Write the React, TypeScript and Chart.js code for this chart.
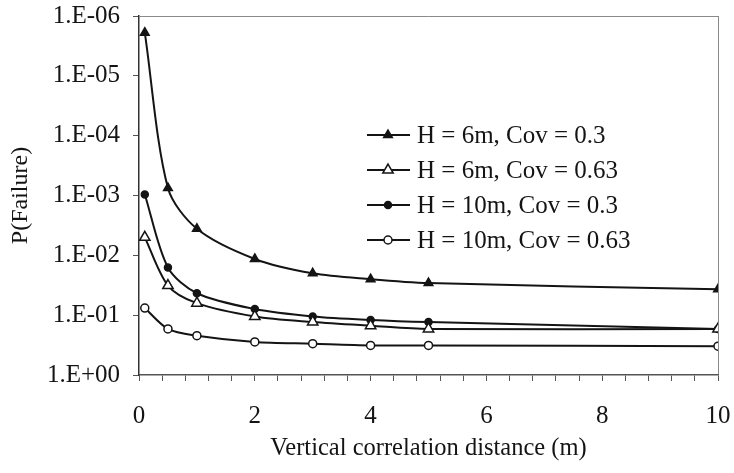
import React, { useEffect, useRef } from "react";
import { Chart, registerables } from "chart.js";

Chart.register(...registerables);

const X_VALUES = [0.1, 0.5, 1, 2, 3, 4, 5, 10];
const SERIES_LABELS = [
  "H = 6m, Cov = 0.3",
  "H = 6m, Cov = 0.63",
  "H = 10m, Cov = 0.3",
  "H = 10m, Cov = 0.63",
];
const H6_COV030 = [1.9e-6, 7.5e-4, 3.6e-3, 1.15e-2, 2.0e-2, 2.5e-2, 2.9e-2, 3.7e-2];
const H6_COV063 = [5.0e-3, 3.2e-2, 6.3e-2, 0.105, 0.13, 0.15, 0.17, 0.17];
const H10_COV030 = [9.6e-4, 1.6e-2, 4.3e-2, 7.9e-2, 0.105, 0.12, 0.13, 0.17];
const H10_COV063 = [0.076, 0.17, 0.22, 0.28, 0.3, 0.32, 0.32, 0.33];
const Y_TICKS = [1e-6, 1e-5, 1e-4, 1e-3, 1e-2, 1e-1, 1];
const X_MAJOR_STEP = 2;
const X_MINOR_STEP = 0.4;

const FONT = '"Liberation Serif", "Times New Roman", Times, serif';
const INK = "#141414";

type MarkerDef = { style: "triangle" | "circle"; radius: number; fill: string };
const MARKERS: MarkerDef[] = [
  { style: "triangle", radius: 5, fill: INK },
  { style: "triangle", radius: 6, fill: "#ffffff" },
  { style: "circle", radius: 3.5, fill: INK },
  { style: "circle", radius: 4, fill: "#ffffff" },
];

function fmtY(v: number): string {
  const e = Math.round(Math.log10(v));
  const sign = e < 0 ? "-" : "+";
  return `1.E${sign}${String(Math.abs(e)).padStart(2, "0")}`;
}

function drawMarker(ctx: CanvasRenderingContext2D, m: MarkerDef, x: number, y: number) {
  ctx.save();
  ctx.beginPath();
  if (m.style === "circle") {
    ctx.arc(x, y, m.radius, 0, Math.PI * 2);
  } else {
    const r = m.radius;
    ctx.moveTo(x, y - r);
    ctx.lineTo(x + r * Math.sin(Math.PI / 3), y + r * 0.5);
    ctx.lineTo(x - r * Math.sin(Math.PI / 3), y + r * 0.5);
    ctx.closePath();
  }
  ctx.fillStyle = m.fill;
  ctx.fill();
  ctx.lineWidth = 1.5;
  ctx.strokeStyle = INK;
  ctx.stroke();
  ctx.restore();
}

const legendPlugin = {
  id: "customLegend",
  afterDraw(chart: any) {
    const { ctx, chartArea } = chart;
    const x0 = chartArea.left + 228;
    const y0 = chartArea.top + 119;
    const rowH = 35;
    ctx.save();
    chart.data.datasets.forEach((ds: any, i: number) => {
      const y = y0 + i * rowH;
      ctx.beginPath();
      ctx.moveTo(x0, y);
      ctx.lineTo(x0 + 43, y);
      ctx.lineWidth = 2;
      ctx.strokeStyle = INK;
      ctx.stroke();
      drawMarker(ctx, MARKERS[i], x0 + 21, y);
      ctx.font = `25px ${FONT}`;
      ctx.fillStyle = INK;
      ctx.textAlign = "left";
      ctx.textBaseline = "middle";
      ctx.fillText(ds.label, x0 + 50, y + 1);
    });
    ctx.restore();
  },
};

export default function App() {
  const ref = useRef<HTMLCanvasElement | null>(null);

  useEffect(() => {
    if (!ref.current) return;
    const series = [H6_COV030, H6_COV063, H10_COV030, H10_COV063];
    const datasets = series.map((vals, i) => ({
      label: SERIES_LABELS[i],
      data: X_VALUES.map((x, j) => ({ x, y: vals[j] })),
      borderColor: INK,
      borderWidth: 2,
      backgroundColor: MARKERS[i].fill,
      pointBackgroundColor: MARKERS[i].fill,
      pointBorderColor: INK,
      pointBorderWidth: 1.5,
      pointStyle: MARKERS[i].style,
      pointRadius: MARKERS[i].radius,
      cubicInterpolationMode: "default" as const,
      tension: 0.3,
      fill: false,
    }));

    const chart = new Chart(ref.current, {
      type: "line",
      data: { datasets },
      options: {
        responsive: false,
        animation: false,
        layout: { padding: { top: 16, right: 16, left: 0, bottom: 0 } },
        plugins: { legend: { display: false }, tooltip: { enabled: false } },
        scales: {
          x: {
            type: "linear",
            min: 0,
            max: 10,
            afterFit: (scale: any) => {
              scale.height = 98;
              scale.paddingLeft = 0;
              scale.paddingRight = 0;
            },
            ticks: {
              stepSize: X_MINOR_STEP,
              autoSkip: false,
              maxRotation: 0,
              padding: 20,
              color: INK,
              font: { family: FONT, size: 25 },
              callback: (v: any) => {
                const q = Number(v) / X_MAJOR_STEP;
                return Math.abs(q - Math.round(q)) < 1e-6 ? String(Math.round(Number(v))) : "";
              },
            },
            grid: {
              drawOnChartArea: true,
              color: (c: any) => (c.tick && Math.abs(c.tick.value - 10) < 1e-6 ? "#8a8a8a" : "rgba(0,0,0,0)"),
              tickColor: "#555",
              tickLength: 6,
              lineWidth: 1,
            },
            border: { display: true, color: "#555", width: 1.5 },
            title: {
              display: true,
              text: "Vertical correlation distance (m)",
              color: INK,
              font: { family: FONT, size: 24.5 },
              padding: { top: 0, bottom: 10 },
            },
          },
          y: {
            type: "logarithmic",
            reverse: true,
            min: 1e-6,
            max: 1,
            afterFit: (scale: any) => {
              scale.width = 139;
              scale.paddingTop = 0;
              scale.paddingBottom = 0;
            },
            afterBuildTicks: (scale: any) => {
              scale.ticks = Y_TICKS.map((v) => ({ value: v }));
            },
            ticks: {
              autoSkip: false,
              padding: 13,
              color: INK,
              font: { family: FONT, size: 25 },
              callback: (v: any) => fmtY(Number(v)),
            },
            grid: {
              drawOnChartArea: true,
              color: (c: any) => (c.tick && c.tick.value === 1e-6 ? "#8a8a8a" : "rgba(0,0,0,0)"),
              tickColor: "#555",
              tickLength: 6,
              lineWidth: 1,
            },
            border: { display: true, color: "#333", width: 1.5 },
            title: {
              display: true,
              text: "P(Failure)",
              color: INK,
              font: { family: FONT, size: 24 },
              padding: { top: 6, bottom: 0 },
            },
          },
        },
      },
      plugins: [legendPlugin],
    });

    return () => chart.destroy();
  }, []);

  return (
    <div style={{ position: "absolute", left: 0, top: 0, width: 734, height: 473, background: "#fff" }}>
      <canvas ref={ref} width={734} height={473} style={{ display: "block" }} />
    </div>
  );
}
